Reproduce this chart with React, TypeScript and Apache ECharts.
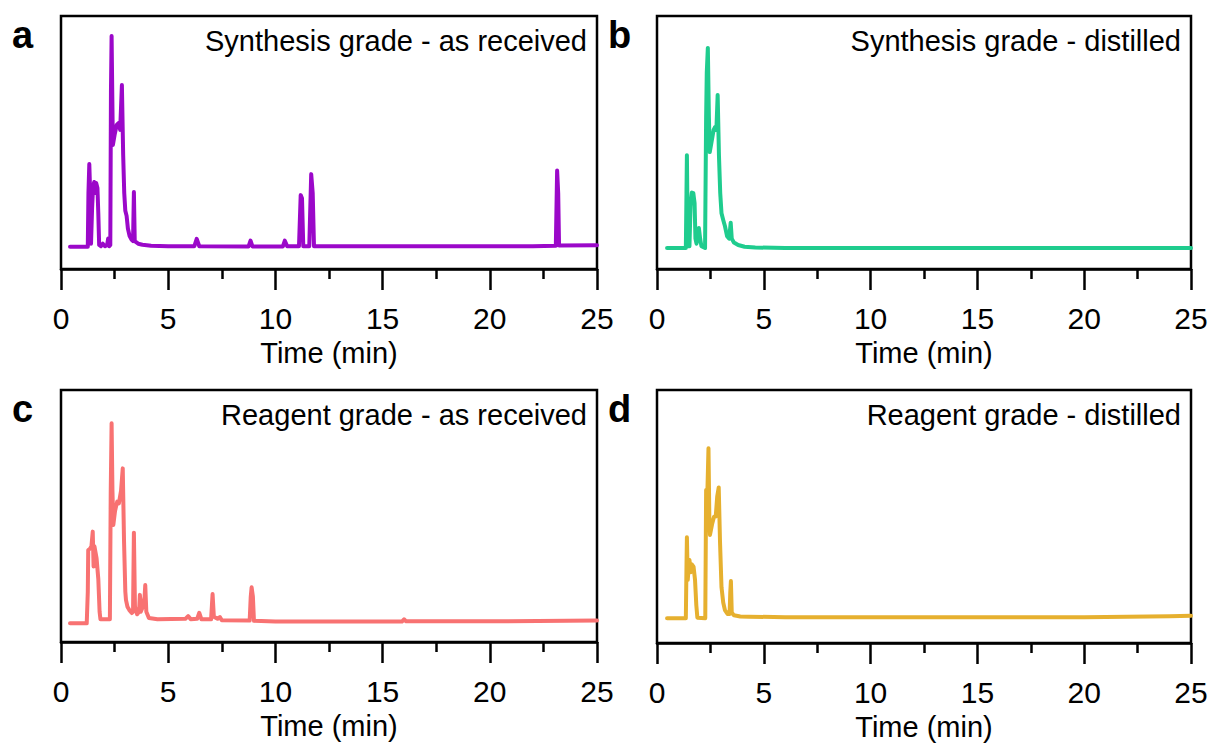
import React, { useEffect, useRef } from "react";
import * as echarts from "echarts";

// ---- Data (time in min, detector signal in arbitrary units) ----
const synthesisRaw: [number, number][] = [
  [0.42, 8.8], [1.25, 8.8], [1.28, 30], [1.32, 41.5], [1.36, 30], [1.4, 10], [1.45, 24],
  [1.5, 33], [1.55, 34.4], [1.6, 30], [1.64, 34], [1.7, 32], [1.74, 22], [1.78, 9.5],
  [1.86, 9], [1.95, 10], [2.05, 9], [2.15, 9.5], [2.2, 12], [2.25, 9], [2.3, 9.5],
  [2.33, 70], [2.36, 92.1], [2.39, 70], [2.42, 49], [2.5, 53], [2.6, 57], [2.68, 57.7],
  [2.76, 55], [2.84, 72.7], [2.9, 45], [2.95, 30], [3.0, 23], [3.06, 21], [3.12, 16],
  [3.2, 13], [3.3, 11.5], [3.36, 11], [3.4, 30.4], [3.44, 11], [3.6, 10], [3.8, 9.6],
  [4.2, 9.2], [5.0, 9], [6.22, 9], [6.33, 11.9], [6.45, 9], [8.75, 8.9], [8.84, 11.2],
  [8.93, 8.9], [10.35, 8.9], [10.44, 11.2], [10.55, 9], [11.1, 9], [11.18, 29.2],
  [11.24, 28], [11.3, 9], [11.58, 9], [11.67, 37.5], [11.74, 30], [11.8, 9], [22.0, 9],
  [23.08, 9.2], [23.14, 38.9], [23.19, 30], [23.23, 9.3], [25.0, 9.4],
];

const synthesisDistilled: [number, number][] = [
  [0.47, 8.3], [1.35, 8.3], [1.38, 30], [1.4, 45], [1.43, 20], [1.47, 9], [1.52, 9],
  [1.57, 25], [1.63, 30.2], [1.7, 30], [1.76, 26], [1.8, 12], [1.85, 10], [1.9, 12],
  [1.96, 16.2], [2.02, 12], [2.08, 9], [2.25, 8.3], [2.3, 60], [2.33, 77.5], [2.38, 87.4],
  [2.43, 60], [2.47, 46.2], [2.55, 50], [2.65, 55], [2.72, 56.1], [2.78, 55], [2.84, 68.8],
  [2.9, 45], [2.96, 30], [3.02, 22], [3.1, 19.4], [3.18, 17], [3.28, 13], [3.38, 12],
  [3.45, 18.3], [3.5, 12], [3.6, 10.5], [3.8, 9.5], [4.1, 8.8], [4.6, 8.5], [6.0, 8.3],
  [25.0, 8.3],
];

const reagentRaw: [number, number][] = [
  [0.42, 7.4], [1.2, 7.4], [1.25, 20], [1.27, 36.5], [1.35, 37], [1.42, 38], [1.48, 43.8],
  [1.52, 30], [1.56, 38], [1.66, 33.2], [1.74, 25], [1.8, 12], [1.84, 9], [2.28, 9],
  [2.32, 60], [2.36, 86.8], [2.4, 60], [2.44, 46.4], [2.52, 52], [2.62, 55.7], [2.7, 55],
  [2.8, 60], [2.88, 68.9], [2.94, 40], [3.0, 20], [3.03, 16.7], [3.1, 14], [3.2, 12.5],
  [3.3, 11.5], [3.36, 12], [3.4, 43.4], [3.45, 14], [3.55, 11], [3.64, 12], [3.68, 18.7],
  [3.72, 12], [3.82, 14], [3.9, 18], [3.93, 22.6], [3.98, 12], [4.1, 9.5], [4.5, 9],
  [5.8, 9.2], [5.93, 10.3], [6.05, 9], [6.35, 9.2], [6.45, 11.6], [6.55, 9], [7.0, 9],
  [7.07, 19], [7.13, 10], [7.3, 9.2], [7.41, 9.9], [7.5, 8.6], [8.8, 8.5], [8.85, 18],
  [8.89, 21.7], [8.95, 18], [9.0, 8.4], [10.0, 8.1], [15.9, 8.1], [16.0, 9], [16.1, 8.2],
  [20.0, 8.2], [25.0, 8.5],
];

const reagentDistilled: [number, number][] = [
  [0.47, 9.8], [1.35, 9.8], [1.38, 30], [1.4, 41.8], [1.44, 25], [1.48, 30], [1.52, 32.8],
  [1.58, 28], [1.64, 31], [1.71, 30.2], [1.78, 25], [1.84, 15], [1.89, 10], [2.26, 9.8],
  [2.3, 60.5], [2.36, 60], [2.41, 77], [2.45, 50], [2.48, 42.7], [2.58, 47], [2.67, 49.9],
  [2.75, 50], [2.82, 58], [2.89, 61.5], [2.95, 40], [3.02, 22], [3.1, 16], [3.18, 13],
  [3.3, 11.5], [3.4, 11.5], [3.43, 20], [3.46, 24.5], [3.5, 12], [3.6, 11], [3.9, 10.5],
  [4.3, 10.4], [6.0, 10.2], [20.0, 10.2], [24.0, 10.6], [25.0, 10.8],
];

const panelTitles = [
  "Synthesis grade - as received",
  "Synthesis grade - distilled",
  "Reagent grade - as received",
  "Reagent grade - distilled",
];
const panelLetters = ["a", "b", "c", "d"];
const panelColors = ["#9b08c9", "#1fcc8e", "#f87272", "#e6b02f"];
const panelData = [synthesisRaw, synthesisDistilled, reagentRaw, reagentDistilled];
const xAxisName = "Time (min)";
const xMin = 0;
const xMax = 25;
const xInterval = 5;

const FONT = "'Liberation Sans', Arial, Helvetica, sans-serif";

// layout of the four plot boxes
const boxes = [
  { left: 61, top: 16, width: 536, height: 253 },
  { left: 657, top: 16, width: 534, height: 253 },
  { left: 61, top: 390, width: 536, height: 252 },
  { left: 657, top: 390, width: 534, height: 253 },
];

export default function App() {
  const ref = useRef<HTMLDivElement>(null);

  useEffect(() => {
    document.body.style.margin = "0";
    if (!ref.current) return;
    const chart = echarts.init(ref.current, null, { renderer: "svg" });

    const grid = boxes.map((b) => ({
      left: b.left,
      top: b.top,
      width: b.width,
      height: b.height,
      show: true,
      borderColor: "#000",
      borderWidth: 2.5,
      backgroundColor: "transparent",
    }));

    const xAxis = boxes.map((_, i) => ({
      type: "value" as const,
      gridIndex: i,
      min: xMin,
      max: xMax,
      interval: xInterval,
      name: xAxisName,
      nameLocation: "middle" as const,
      nameGap: 69,
      nameTextStyle: { fontFamily: FONT, fontSize: 29, color: "#000" },
      axisLine: { show: true, lineStyle: { color: "#000", width: 2.5 } },
      axisTick: { show: true, length: 21, lineStyle: { color: "#000", width: 2.5 } },
      minorTick: { show: true, splitNumber: 2, length: 10, lineStyle: { color: "#000", width: 2.5 } },
      splitLine: { show: false },
      minorSplitLine: { show: false },
      axisLabel: { fontFamily: FONT, fontSize: 30, color: "#000", margin: 34 },
    }));

    const yAxis = boxes.map((_, i) => ({
      type: "value" as const,
      gridIndex: i,
      min: 0,
      max: 100,
      show: false,
      splitLine: { show: false },
    }));

    const series = panelData.map((d, i) => ({
      type: "line" as const,
      xAxisIndex: i,
      yAxisIndex: i,
      data: d,
      showSymbol: false,
      symbol: "none",
      lineStyle: { color: panelColors[i], width: 4, join: "round", cap: "round" },
      itemStyle: { color: panelColors[i] },
      clip: true,
    }));

    const graphic: any[] = [];
    boxes.forEach((b, i) => {
      graphic.push({
        type: "text",
        x: b.left + b.width - 10,
        y: b.top + 25,
        style: {
          text: panelTitles[i],
          fontFamily: FONT,
          fontSize: 29,
          fill: "#000",
          textAlign: "right",
          textVerticalAlign: "middle",
        },
      });
      graphic.push({
        type: "text",
        x: b.left - 49,
        y: b.top + 19,
        style: {
          text: panelLetters[i],
          fontFamily: FONT,
          fontSize: 38,
          fontWeight: "bold",
          fill: "#000",
          textAlign: "left",
          textVerticalAlign: "middle",
        },
      });
    });

    chart.setOption({
      animation: false,
      backgroundColor: "#fff",
      grid,
      xAxis,
      yAxis,
      series,
      graphic,
    });

    return () => chart.dispose();
  }, []);

  return <div ref={ref} style={{ width: 1213, height: 745 }} />;
}
